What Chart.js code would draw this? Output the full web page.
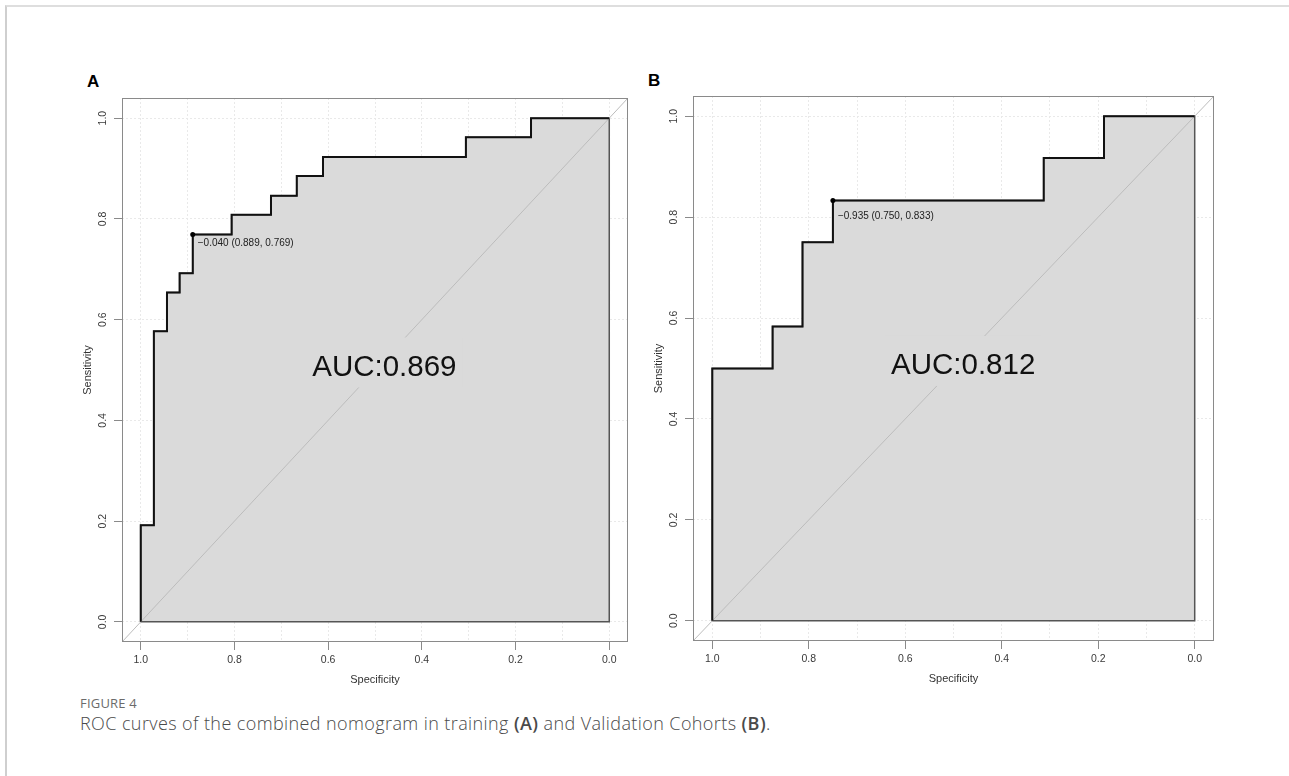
<!DOCTYPE html>
<html>
<head>
<meta charset="utf-8">
<script src="https://cdn.jsdelivr.net/npm/chart.js@4.4.1/dist/chart.umd.min.js"></script>
<style>
  html, body { margin: 0; padding: 0; background: #fff; }
  body { width: 1289px; height: 776px; position: relative; overflow: hidden; }
  .frame { position: absolute; left: 5px; top: 5px; right: 0; bottom: 0;
           border-top: 2px solid #dedede; border-left: 2px solid #cfcfcf; }
  .panel { position: absolute; }
  .letter { position: absolute; font: bold 17px "Liberation Sans", Arial, sans-serif; color: #000; }
  .figno { position: absolute; left: 80px; top: 694px; font: 13px "Open Sans", sans-serif; color: #6b6b6b; letter-spacing: 0.2px; }
  .caption { position: absolute; left: 80px; top: 711px; font: 300 18px "Open Sans", sans-serif; color: #4a4a4a;
             white-space: nowrap; letter-spacing: 0.4px; }
  .caption b { font-weight: 600; color: #4a4a4a; }
</style>
</head>
<body>
<div class="frame"></div>
<div class="letter" style="left:87px; top:72px;">A</div>
<div class="letter" style="left:648px; top:71px;">B</div>
<canvas id="rocA" class="panel" width="580" height="600" style="left:60px; top:88px;"></canvas>
<canvas id="rocB" class="panel" width="595" height="601" style="left:631px; top:86px;"></canvas>
<div class="figno">FIGURE 4</div>
<div class="caption">ROC curves of the combined nomogram in training <b>(A)</b> and Validation Cohorts <b>(B)</b>.</div>

<script>
// ---- data ----
// training cohort (A): ROC corner points, specificity / sensitivity
const A_SPEC = [1, 1, 0.972, 0.972, 0.944, 0.944, 0.917, 0.917, 0.889, 0.889, 0.806, 0.806,
                0.722, 0.722, 0.667, 0.667, 0.611, 0.611, 0.306, 0.306, 0.167, 0.167, 0];
const A_SENS = [0, 0.192, 0.192, 0.577, 0.577, 0.654, 0.654, 0.692, 0.692, 0.769, 0.769, 0.808,
                0.808, 0.846, 0.846, 0.885, 0.885, 0.923, 0.923, 0.962, 0.962, 1, 1];
const A_THRESH = [-0.040, 0.889, 0.769];   // cutoff, specificity, sensitivity
const A_AUC = 0.869;

// validation cohort (B)
const B_SPEC = [1, 1, 0.875, 0.875, 0.813, 0.813, 0.75, 0.75, 0.313, 0.313, 0.188, 0.188, 0];
const B_SENS = [0, 0.5, 0.5, 0.583, 0.583, 0.75, 0.75, 0.833, 0.833, 0.917, 0.917, 1, 1];
const B_THRESH = [-0.935, 0.750, 0.833];
const B_AUC = 0.812;

// axes
const X_TICKS = [1.0, 0.8, 0.6, 0.4, 0.2, 0.0];
const X_GRID = [1.0, 0.9, 0.8, 0.7, 0.6, 0.5, 0.4, 0.3, 0.2, 0.1, 0.0];
const Y_TICKS = [0.0, 0.2, 0.4, 0.6, 0.8, 1.0];
const AXIS_MIN = -0.04, AXIS_MAX = 1.04;
const AUC_POS = [0.48, 0.505];   // where the AUC text sits (spec, sens)

const FONT = '"Liberation Sans", Arial, Helvetica, sans-serif';
const FILL = '#dadada';
const GRID = '#e9e9e9';
const AXIS = '#8a8a8a';
const LABEL = '#3a3a3a';

const isMajor = v => X_TICKS.some(t => Math.abs(t - v) < 1e-6);
const pts = (xs, ys) => xs.map((x, i) => ({ x: x, y: ys[i] }));
const fmtCut = c => (c < 0 ? '\u2212' : '') + Math.abs(c).toFixed(3);

// draws the box, rotated y labels, threshold label and AUC text
const rocDecor = {
  id: 'rocDecor',
  afterDatasetsDraw(chart, args, opts) {
    const { ctx, scales: { x, y } } = chart;
    ctx.save();
    // AUC label with a box in the fill colour (hides the diagonal behind it)
    ctx.font = '29.5px ' + FONT;
    const txt = 'AUC:' + opts.auc.toFixed(3);
    const w = ctx.measureText(txt).width;
    const cx = x.getPixelForValue(AUC_POS[0]), cy = y.getPixelForValue(AUC_POS[1]);
    ctx.fillStyle = FILL;
    ctx.fillRect(cx - w / 2 - 6, cy - 30, w + 12, 50);
    ctx.fillStyle = '#111';
    ctx.textAlign = 'center';
    ctx.textBaseline = 'middle';
    ctx.fillText(txt, cx, cy);
    // best threshold text
    const t = opts.thresh;
    const px = x.getPixelForValue(t[1]), py = y.getPixelForValue(t[2]);
    ctx.font = '10px ' + FONT;
    ctx.fillStyle = '#222';
    ctx.textAlign = 'left';
    ctx.textBaseline = 'top';
    ctx.fillText(fmtCut(t[0]) + ' (' + t[1].toFixed(3) + ', ' + t[2].toFixed(3) + ')', px + 5, py + opts.dy);
    ctx.restore();
  },
  afterDraw(chart) {
    const { ctx, chartArea: a, scales: { y } } = chart;
    ctx.save();
    ctx.strokeStyle = AXIS;
    ctx.lineWidth = 1;
    ctx.strokeRect(a.left + 0.5, a.top + 0.5, a.right - a.left - 1, a.bottom - a.top - 1);
    // y tick labels, rotated like R's las=0
    ctx.font = '10.5px ' + FONT;
    ctx.fillStyle = LABEL;
    ctx.textAlign = 'center';
    ctx.textBaseline = 'middle';
    Y_TICKS.forEach(v => {
      ctx.save();
      ctx.translate(a.left - 19, y.getPixelForValue(v));
      ctx.rotate(-Math.PI / 2);
      ctx.fillText(v.toFixed(1), 0, 0);
      ctx.restore();
    });
    ctx.restore();
  }
};

function makeRoc(id, spec, sens, thresh, auc, xHeight, padTop, dy) {
  const curve = pts(spec, sens);
  const last = curve[curve.length - 1];
  const polygon = curve.concat([{ x: last.x, y: 0 }, { x: curve[0].x, y: 0 }]);
  return new Chart(document.getElementById(id), {
    type: 'scatter',
    data: {
      datasets: [
        { data: polygon, showLine: true, fill: 'shape', backgroundColor: FILL,
          borderColor: '#555', borderWidth: 1.5, pointRadius: 0, order: 3 },
        { data: [{ x: AXIS_MAX, y: AXIS_MIN }, { x: AXIS_MIN, y: AXIS_MAX }], showLine: true,
          borderColor: '#bcbcbc', borderWidth: 1, pointRadius: 0, order: 2 },
        { data: curve, showLine: true, borderColor: '#111', borderWidth: 2,
          pointRadius: 0, order: 1 },
        { data: [{ x: thresh[1], y: thresh[2] }], pointRadius: 2.5, backgroundColor: '#000',
          borderColor: '#000', borderWidth: 0, order: 0 }
      ]
    },
    options: {
      responsive: false,
      animation: false,
      events: [],
      layout: { padding: { left: 0, right: 12, top: padTop, bottom: 0 } },
      plugins: { legend: { display: false }, tooltip: { enabled: false },
                 rocDecor: { auc: auc, thresh: thresh, dy: dy } },
      scales: {
        x: {
          type: 'linear', reverse: true, min: AXIS_MIN, max: AXIS_MAX,
          afterBuildTicks: s => { s.ticks = X_GRID.map(v => ({ value: v })); },
          afterFit: s => { s.height = xHeight; },
          grid: { color: GRID, tickLength: 8,
                  tickColor: c => (c.tick && isMajor(c.tick.value)) ? AXIS : 'rgba(0,0,0,0)' },
          border: { display: false, dash: [2, 2] },
          ticks: { padding: 4, color: LABEL, autoSkip: false, maxRotation: 0,
                   font: { family: FONT, size: 10.5 },
                   callback: v => isMajor(v) ? v.toFixed(1) : '' },
          title: { display: true, text: 'Specificity', color: '#333',
                   font: { family: FONT, size: 11 }, padding: { top: 0, bottom: 1 } }
        },
        y: {
          type: 'linear', min: AXIS_MIN, max: AXIS_MAX,
          afterBuildTicks: s => { s.ticks = Y_TICKS.map(v => ({ value: v })); },
          afterFit: s => { s.width = 62; },
          grid: { color: GRID, tickLength: 8, tickColor: AXIS },
          border: { display: false, dash: [2, 2] },
          ticks: { display: false },
          title: { display: true, text: 'Sensitivity', color: '#333',
                   font: { family: FONT, size: 11 }, padding: { top: 21, bottom: 0 } }
        }
      }
    },
    plugins: [rocDecor]
  });
}

makeRoc('rocA', A_SPEC, A_SENS, A_THRESH, A_AUC, 46, 10, 4);
makeRoc('rocB', B_SPEC, B_SENS, B_THRESH, B_AUC, 46, 10, 11);
</script>
</body>
</html>
